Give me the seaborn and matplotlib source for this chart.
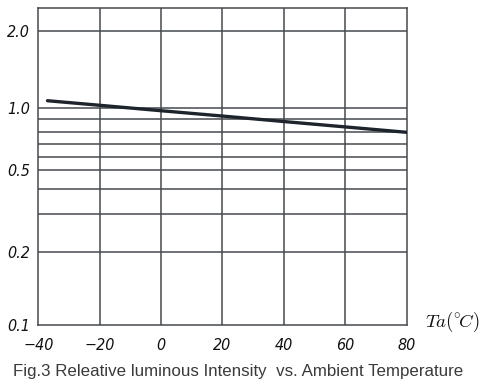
import numpy as np
import pandas as pd
import matplotlib
matplotlib.use("Agg")
import matplotlib.pyplot as plt
import seaborn as sns

# ---- data ----
temperature = [-37, -20, 0, 20, 40, 60, 80]
rel_intensity = [1.065, 1.022, 0.973, 0.927, 0.882, 0.840, 0.80]

x_ticks = [-40, -20, 0, 20, 40, 60, 80]
y_ticks = [0.1, 0.2, 0.5, 1.0, 2.0]
y_tick_labels = ["0.1", "0.2", "0.5", "1.0", "2.0"]
y_grid_values = [0.2, 0.3, 0.4, 0.5, 0.6, 0.7, 0.8, 0.9, 1.0, 2.0]

# The printed chart uses a hand-drawn, non-uniform logarithmic grid.
# Scale definition: grid value -> relative height (0 at 0.1, 317 at top)
scale_vals = np.array([0.01, 0.1, 0.2, 0.3, 0.4, 0.5, 0.6, 0.7, 0.8, 0.9, 1.0, 2.0, 2.45, 100.0])
scale_pos = np.array([-245.0, 0.0, 73.3, 110.7, 136.0, 154.7, 168.3, 180.7, 192.7, 205.7, 217.3, 294.3, 317.0, 317.0 + 256 * np.log10(100 / 2.45)])
log_vals = np.log10(scale_vals)


def fwd(v):
    v = np.clip(np.asarray(v, dtype=float), 1e-6, None)
    return np.interp(np.log10(v), log_vals, scale_pos)


def inv(u):
    return 10 ** np.interp(np.asarray(u, dtype=float), scale_pos, log_vals)


df = pd.DataFrame({"Ta": temperature, "I": rel_intensity})

sns.set_theme(style="white")
plt.rcParams["mathtext.fontset"] = "cm"

fig = plt.figure(figsize=(4.89, 3.87), dpi=100)
ax = fig.add_axes([0.0783, 0.1602, 0.7534, 0.8191])

ax.set_yscale("function", functions=(fwd, inv))
ax.set_xlim(-40, 80)
ax.set_ylim(0.1, 2.45)

grid_color = "#45494e"
for v in x_ticks[1:-1]:
    ax.axvline(v, color=grid_color, lw=1.1, zorder=1)
for v in y_grid_values:
    ax.axhline(v, color=grid_color, lw=1.1, zorder=1)

sns.lineplot(data=df, x="Ta", y="I", ax=ax, color="#1d242b", lw=2.4, zorder=3)

for s in ax.spines.values():
    s.set_color(grid_color)
    s.set_linewidth(1.1)
    s.set_visible(True)

ax.set_xticks(x_ticks)
ax.set_xticklabels([f"{t}".replace("-", "\u2212") for t in x_ticks])
ax.set_yticks(y_ticks)
ax.set_yticklabels(y_tick_labels)
ax.minorticks_off()
ax.yaxis.set_minor_locator(matplotlib.ticker.NullLocator())

for lab in ax.get_xticklabels() + ax.get_yticklabels():
    lab.set_fontfamily("DejaVu Sans")
    lab.set_fontstretch("condensed")
    lab.set_fontstyle("oblique")
    lab.set_fontsize(11.5)
    lab.set_color("#111111")
ax.tick_params(axis="x", length=0, pad=9)
ax.tick_params(axis="y", length=0, pad=6)
ax.set_xlabel("")
ax.set_ylabel("")

fig.text(0.869, 0.168, r"$Ta({}^{\circ}\!C)$", fontsize=13.5, color="#111111", ha="left", va="center")

fig.text(0.487, 0.04, "Fig.3 Releative luminous Intensity  vs. Ambient Temperature",
         fontsize=12.2, color="#3a3a3a", ha="center", va="center",
         family=["Liberation Sans", "DejaVu Sans"])

fig.savefig("out.png", dpi=100)
